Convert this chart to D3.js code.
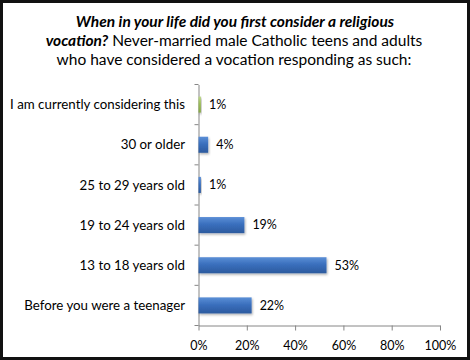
<!DOCTYPE html>
<html><head><meta charset="utf-8">
<script src="https://cdn.jsdelivr.net/npm/d3@7"></script>
<style>html,body{margin:0;padding:0;background:#fff;}svg{display:block;}</style>
</head><body>
<script>
const categories = ["I am currently considering this","30 or older","25 to 29 years old","19 to 24 years old","13 to 18 years old","Before you were a teenager"];
const values = [1,4,1,19,53,22];
const valueLabels = ["1%","4%","1%","19%","53%","22%"];
const tickValues = [0,20,40,60,80,100];

const W=470,H=360;
const svg=d3.select("body").append("svg").attr("width",W).attr("height",H);
const defs=svg.append("defs");
function grad(id,c1,c2,c3){
  const g=defs.append("linearGradient").attr("id",id).attr("x1",0).attr("y1",0).attr("x2",0).attr("y2",1);
  g.append("stop").attr("offset","0%").attr("stop-color",c1);
  g.append("stop").attr("offset","45%").attr("stop-color",c2);
  g.append("stop").attr("offset","100%").attr("stop-color",c3);
}
grad("gb","#5b8fd6","#3a6fbd","#2c5a9e");
grad("gg","#bcd68a","#9bbb59","#86a64a");
const flt=defs.append("filter").attr("id","sh").attr("x","-10%").attr("y","-20%").attr("width","130%").attr("height","160%");
flt.append("feDropShadow").attr("dx",1).attr("dy",1.5).attr("stdDeviation",1).attr("flood-color","#000").attr("flood-opacity",0.3);

svg.append("rect").attr("x",1.5).attr("y",1.5).attr("width",W-3).attr("height",H-3).attr("fill","#fff").attr("stroke","#111").attr("stroke-width",3);

const font="Lato, 'Open Sans', sans-serif";
const t=svg.append("text").attr("text-anchor","middle").attr("font-family",font).attr("font-size",15.5).attr("fill","#000");
t.append("tspan").attr("x",235).attr("y",27).attr("font-weight","bold").attr("font-style","italic").text("When in your life did you first consider a religious");
const l2=t.append("tspan").attr("x",234).attr("y",46);
l2.append("tspan").attr("font-weight","bold").attr("font-style","italic").text("vocation?");
l2.append("tspan").text(" Never-married male Catholic teens and adults");
t.append("tspan").attr("x",234).attr("y",65).text("who have considered a vocation responding as such:");

const x=d3.scaleLinear().domain([0,100]).range([198.5,440]);
const y=d3.scaleBand().domain(categories).range([84.5,325.5]).paddingInner(0.6).paddingOuter(0.3);
const yb=d3.scaleBand().domain(categories).range([84.5,325.5]);

const gx=svg.append("g").attr("transform","translate(0,325.5)")
 .call(d3.axisBottom(x).tickValues(tickValues).tickFormat(d=>d+"%").tickSize(5).tickSizeOuter(0));
const gy=svg.append("g").attr("transform","translate(198.5,0)")
 .call(d3.axisLeft(yb).tickSize(0).tickFormat(""));
svg.append("g").selectAll("line").data(d3.range(categories.length+1)).join("line")
 .attr("x1",194.5).attr("x2",198.5)
 .attr("y1",i=>84.5+i*yb.step()).attr("y2",i=>84.5+i*yb.step())
 .attr("stroke","#868686");
[gx,gy].forEach(g=>{g.selectAll("path,line").attr("stroke","#868686");g.selectAll("text").attr("font-family",font).attr("font-size",12.5).attr("fill","#000");});
gx.selectAll("text").attr("dy","1.3em");

svg.append("g").selectAll("text").data(categories).join("text")
 .attr("x",185).attr("y",d=>yb(d)+yb.bandwidth()/2).attr("dy","0.35em")
 .attr("text-anchor","end").attr("font-family",font).attr("font-size",13.3).attr("fill","#000").text(d=>d);

svg.append("g").selectAll("rect").data(values).join("rect")
 .attr("x",x(0)).attr("y",(d,i)=>y(categories[i]))
 .attr("width",d=>x(d)-x(0)).attr("height",y.bandwidth())
 .attr("fill",(d,i)=>i===0?"url(#gg)":"url(#gb)").attr("filter","url(#sh)");

svg.append("g").selectAll("text").data(values).join("text")
 .attr("x",d=>x(d)+8).attr("y",(d,i)=>yb(categories[i])+yb.bandwidth()/2).attr("dy","0.35em")
 .attr("font-family",font).attr("font-size",12.5).attr("fill","#000").text((d,i)=>valueLabels[i]);
</script>
</body></html>
